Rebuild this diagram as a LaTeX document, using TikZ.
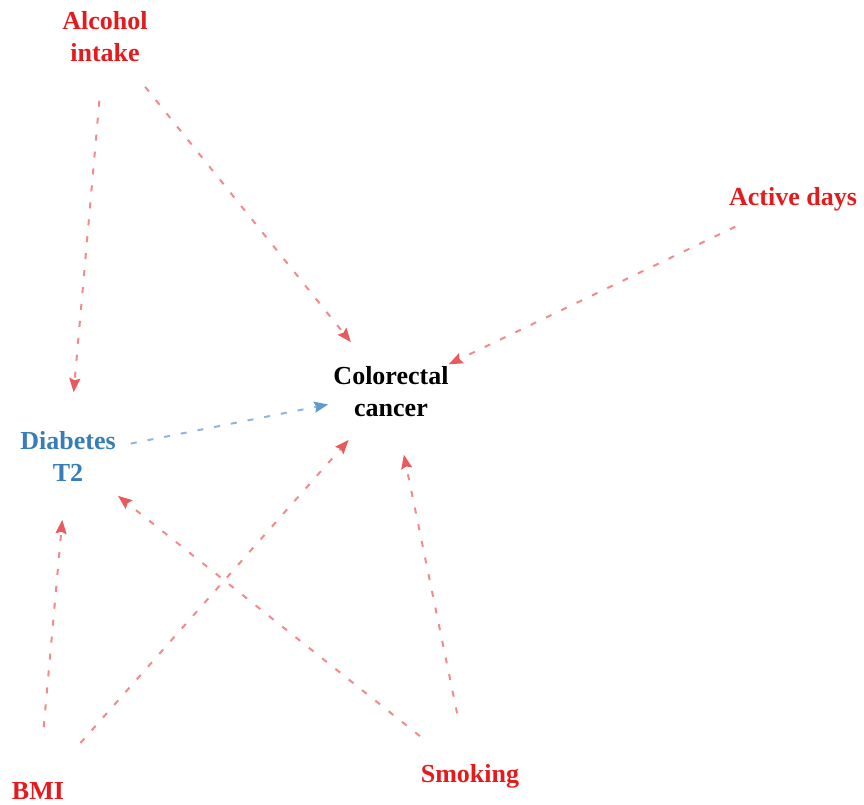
\documentclass[tikz,border=0pt]{standalone}
\usepackage{fontspec}
\setmainfont{Liberation Serif}
\usetikzlibrary{arrows.meta}
\definecolor{dagred}{HTML}{E41A1C}
\definecolor{dagblue}{HTML}{377EB8}
\definecolor{edgered}{HTML}{F08A8B}
\definecolor{headred}{HTML}{E85A5E}
\definecolor{edgeblue}{HTML}{8DB6DB}
\definecolor{headblue}{HTML}{5F9BCF}

\begin{document}
\begin{tikzpicture}[x=1pt,y=-1pt,
  var/.style={align=center,font=\fontsize{26}{32}\selectfont\bfseries,inner sep=0pt},
  riskedge/.style={draw=edgered,line width=2pt,dash pattern=on 6pt off 11pt,
    -{Stealth[length=14pt,width=11pt,inset=2pt,color=headred]},shorten <=64pt,shorten >=64pt},
  medge/.style={riskedge,draw=edgeblue,-{Stealth[length=14pt,width=11pt,inset=2pt,color=headblue]}}]
  \useasboundingbox (0,0) rectangle (864,805);

  \node[var,text=dagred] (alcohol) at (105,37) {Alcohol\\intake};
  \node[var] (crc) at (391,392) {Colorectal\\cancer};
  \node[var,text=dagred] (active) at (793,199) {Active days};
  \node[var,text=dagblue] (diab) at (68,456) {Diabetes\\T2};
  \node[var,text=dagred] (bmi) at (38,791) {BMI};
  \node[var,text=dagred] (smoke) at (470,776) {Smoking};

  \draw[riskedge] (alcohol.center) -- (diab.center);
  \draw[riskedge] (alcohol.center) -- (crc.center);
  \draw[riskedge] (active.center) -- (crc.center);
  \draw[medge] (diab.center) -- (crc.center);
  \draw[riskedge] (bmi.center) -- (diab.center);
  \draw[riskedge] (bmi.center) -- (crc.center);
  \draw[riskedge] (smoke.center) -- (diab.center);
  \draw[riskedge] (smoke.center) -- (crc.center);

\end{tikzpicture}
\end{document}
